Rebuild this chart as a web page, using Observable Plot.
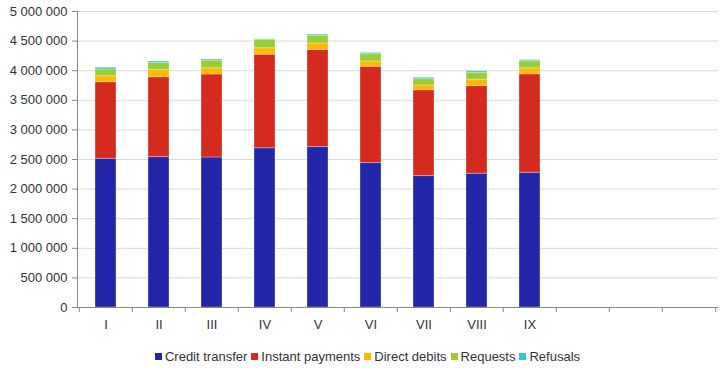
<!DOCTYPE html>
<html>
<head>
<meta charset="utf-8">
<script src="https://cdn.jsdelivr.net/npm/d3@7"></script>
<script src="https://cdn.jsdelivr.net/npm/@observablehq/plot@0.6"></script>
<style>
  html, body { margin: 0; padding: 0; background: #fff; }
  body { width: 725px; height: 369px; overflow: hidden; font-family: "Liberation Sans", Arial, sans-serif; }
  #legend { display: flex; justify-content: center; align-items: center; height: 29px; padding-left: 14px; box-sizing: border-box; font-size: 13px; color: #333; padding-top: 4px; }
  .item { display: flex; align-items: center; margin-right: 4px; }
  .sw { width: 7px; height: 7px; margin-right: 3px; }
</style>
</head>
<body>
<div id="chart"></div>
<div id="legend"></div>
<script>
const months = ["I", "II", "III", "IV", "V", "VI", "VII", "VIII", "IX"];
const emptySlots = ["X", "XI", "XII"];
const seriesNames = ["Credit transfer", "Instant payments", "Direct debits", "Requests", "Refusals"];
const seriesColors = ["#2326a8", "#d52b1e", "#ffb900", "#9acd32", "#33c6d4"];
const creditTransfer = [2512000, 2540000, 2534000, 2690000, 2710000, 2440000, 2220000, 2260000, 2275000];
const instantPayments = [1294000, 1350000, 1402000, 1580000, 1640000, 1626000, 1450000, 1480000, 1665000];
const directDebits = [101000, 120000, 104000, 110000, 110000, 89000, 80000, 110000, 100000];
const requests = [113000, 120000, 130000, 140000, 130000, 125000, 106000, 115000, 120000];
const refusals = [30000, 25000, 20000, 10000, 20000, 20000, 24000, 25000, 20000];
const yTicks = [0, 500000, 1000000, 1500000, 2000000, 2500000, 3000000, 3500000, 4000000, 4500000, 5000000];

const seriesValues = [creditTransfer, instantPayments, directDebits, requests, refusals];
const data = [];
seriesNames.forEach((s, si) => {
  months.forEach((m, mi) => data.push({month: m, series: s, value: seriesValues[si][mi]}));
});

const W = 725, H = 340, ML = 77, MR = 7, MT = 11, MB = 33;
const slots = months.concat(emptySlots);
const step = (W - ML - MR) / slots.length;
const fmt = v => d3.format(",")(v).replace(/,/g, " ");

const chart = Plot.plot({
  width: W, height: H,
  marginLeft: ML, marginRight: MR, marginTop: MT, marginBottom: MB,
  style: {fontFamily: "Liberation Sans, Arial, sans-serif", fontSize: "13px", color: "#333", background: "#fff"},
  x: {domain: slots, paddingInner: 0.6, paddingOuter: 0.3, label: null},
  y: {domain: [0, 5000000], label: null},
  color: {domain: seriesNames, range: seriesColors},
  marks: [
    Plot.gridY(yTicks, {stroke: "#d9d9d9", strokeOpacity: 1}),
    Plot.barY(data, {x: "month", y: "value", fill: "series", stroke: "#fff", strokeOpacity: 0.3, strokeWidth: 1}),
    Plot.ruleY([0], {stroke: "#888"}),
    Plot.frame({anchor: "left", stroke: "#888"}),
    Plot.axisY(yTicks, {tickSize: 5, tickPadding: 5, stroke: "#888", tickFormat: fmt, fill: "#333", fontSize: 13}),
    Plot.axisX(slots, {tickSize: 5, tickFormat: () => "", stroke: "#888", dx: -step / 2}),
    Plot.axisX(["XII"], {tickSize: 5, tickFormat: () => "", stroke: "#888", dx: step / 2}),
    Plot.axisX(slots, {tickSize: 0, tickPadding: 12, tickFormat: d => months.includes(d) ? d : "", fill: "#333", fontSize: 13})
  ]
});
document.getElementById("chart").appendChild(chart);

const legend = document.getElementById("legend");
seriesNames.forEach((s, i) => {
  const it = document.createElement("div");
  it.className = "item";
  it.innerHTML = `<span class="sw" style="background:${seriesColors[i]}"></span><span>${s}</span>`;
  legend.appendChild(it);
});
</script>
</body>
</html>
